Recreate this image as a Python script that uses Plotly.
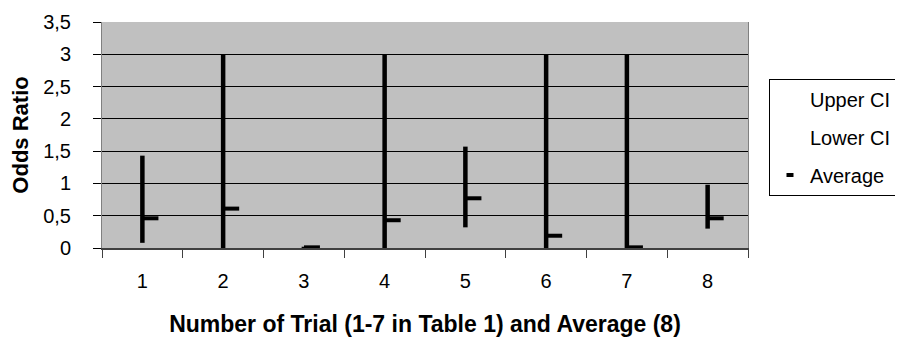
import plotly.graph_objects as go

trials = [1, 2, 3, 4, 5, 6, 7, 8]
tick_labels = ["1", "2", "3", "4", "5", "6", "7", "8"]
upper_ci = [1.43, 3.0, 0.02, 3.0, 1.57, 3.0, 3.0, 0.98]
lower_ci = [0.08, 0.0, 0.0, 0.0, 0.32, 0.0, 0.0, 0.30]
average = [0.46, 0.61, 0.01, 0.43, 0.77, 0.19, 0.01, 0.46]

FONT = "Liberation Sans, Arial, sans-serif"
avg_offset = 0.1  # average dash drawn to the right of the high-low line

seg_x, seg_y = [], []
for t, lo, hi in zip(trials, lower_ci, upper_ci):
    seg_x += [t, t, None]
    seg_y += [lo, hi, None]

fig = go.Figure()
fig.add_trace(go.Scatter(x=seg_x, y=seg_y, mode="lines",
                         line=dict(color="black", width=4.5),
                         showlegend=False, hoverinfo="skip"))
fig.add_trace(go.Scatter(x=trials, y=upper_ci, mode="lines", name="Upper CI",
                         line=dict(color="rgba(0,0,0,0)", width=0),
                         legendgroup="u"))
fig.add_trace(go.Scatter(x=trials, y=lower_ci, mode="lines", name="Lower CI",
                         line=dict(color="rgba(0,0,0,0)", width=0),
                         legendgroup="l"))
fig.add_trace(go.Scatter(x=[t + avg_offset for t in trials], y=average, mode="markers",
                         name="Average", legendgroup="a", showlegend=False,
                         marker=dict(symbol="line-ew", size=11.4, color="black",
                                     line=dict(color="black", width=4))))
# legend proxy for the short "Average" dash
fig.add_trace(go.Scatter(x=[None], y=[None], mode="markers",
                         name="Average", legendgroup="a",
                         marker=dict(symbol="line-ew", size=5, color="black",
                                     line=dict(color="black", width=4))))

# page body has an 8px default margin, so the figure is sized to fit inside it
fig.update_layout(
    width=895, height=331,
    margin=dict(l=94, r=155, t=14, b=91, autoexpand=False),
    paper_bgcolor="white", plot_bgcolor="#C0C0C0",
    separators=",.",
    font=dict(family=FONT, size=20, color="black"),
    legend=dict(x=1.0325, y=0.75, xanchor="left", yanchor="top",
                bordercolor="black", borderwidth=1, bgcolor="white",
                font=dict(size=20), itemwidth=30, tracegroupgap=9,
                traceorder="grouped"),
)
fig.update_xaxes(
    range=[0.5, 8.5], tickmode="array", tickvals=trials, ticktext=tick_labels,
    ticks="outside", ticklen=14, tickcolor="rgba(0,0,0,0)", automargin=False,
    minor=dict(tickmode="linear", tick0=0.5, dtick=1, ticks="outside",
               ticklen=8, tickcolor="#404040", tickwidth=1, showgrid=False),
    showline=True, linecolor="#404040", linewidth=1.5, mirror=False,
    showgrid=False, zeroline=False,
    title=dict(text="<b>Number of Trial (1-7 in Table 1) and Average (8)</b>",
               font=dict(size=23), standoff=25),
)
fig.update_yaxes(
    range=[0, 3.5], tickmode="linear", tick0=0, dtick=0.5,
    ticks="outside", ticklen=8, tickcolor="black", tickwidth=1,
    ticklabelstandoff=18, automargin=False,
    showline=True, linecolor="#808080", linewidth=1, mirror=True,
    showgrid=True, gridcolor="black", gridwidth=1, zeroline=False,
    title=dict(text="<b>Odds Ratio</b>", font=dict(size=22), standoff=8),
)
fig.write_html("out.html")
